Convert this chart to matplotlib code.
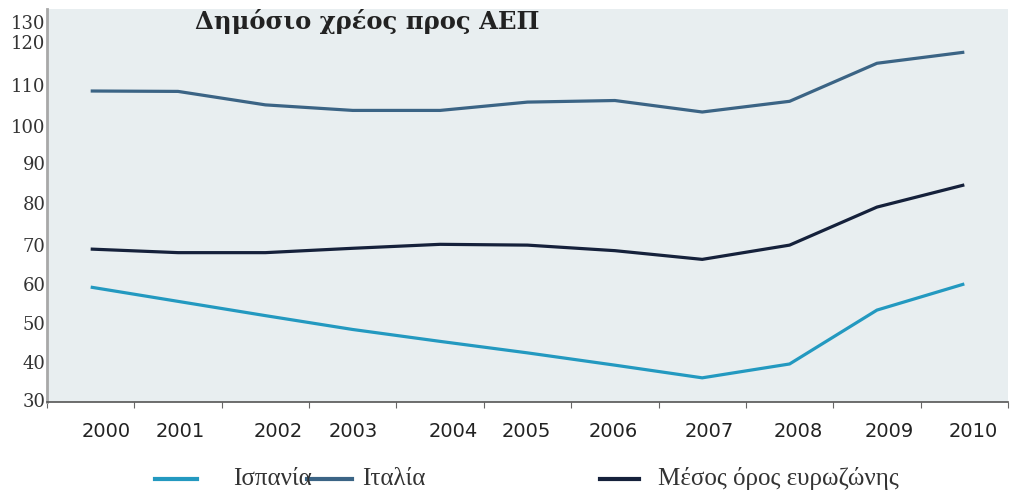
import matplotlib
matplotlib.use("Agg")
import matplotlib.pyplot as plt
from matplotlib.lines import Line2D
import matplotlib.transforms as mtransforms

# Δημόσιο χρέος ως % του ΑΕΠ
years = ["2000", "2001", "2002", "2003", "2004", "2005", "2006", "2007", "2008", "2009", "2010"]
spain = [59.0, 55.4, 51.8, 48.3, 45.3, 42.4, 39.3, 36.1, 39.6, 53.2, 59.8]
italy = [108.5, 108.4, 105.0, 103.6, 103.6, 105.7, 106.1, 103.2, 105.9, 115.5, 118.3]
euro = [68.6, 67.7, 67.7, 68.8, 69.8, 69.6, 68.2, 66.0, 69.6, 79.2, 84.8]
names = ["Ισπανία", "Ιταλία", "Μέσος όρος ευρωζώνης"]
colors = ["#2399c0", "#3b6485", "#15213b"]
ytick_text = ["30", "40", "50", "60", "70", "80", "90", "100", "110", "120", "130"]

# label placement (the year labels and the top two y labels sit off-grid)
ytick_pos = [30.4, 40, 49.9, 59.8, 69.6, 80.3, 90.4, 99.7, 110.0, 120.9, 125.9]
xlabel_pos = [0.18, 1.03, 2.15, 3.0, 4.15, 4.99, 5.98, 7.08, 8.1, 9.14, 10.1]

W, H = 1012, 492
fig = plt.figure(figsize=(W / 100, H / 100), dpi=100)
ax = fig.add_axes([47 / W, (H - 402) / H, (1008 - 47) / W, (402 - 9) / H])
ax.set_facecolor("#e8eef0")

x = list(range(len(years)))
for vals, c in zip([spain, italy, euro], colors):
    ax.plot(x, vals, color=c, lw=2.3, solid_joinstyle="round", solid_capstyle="butt")

ax.set_xlim(-0.48, 10.46)
ax.set_ylim(30, 129.2)

for s in ["top", "right"]:
    ax.spines[s].set_visible(False)
ax.spines["left"].set_color("#a8a8a8")
ax.spines["left"].set_linewidth(2.0)
ax.spines["bottom"].set_color("#555555")
ax.spines["bottom"].set_linewidth(1.2)

ax.set_xticks([i - 0.5 for i in range(len(years) + 1)])
ax.set_xticklabels([])
ax.tick_params(axis="x", length=4, color="#666666", direction="out")

ax.set_yticks(ytick_pos)
ax.set_yticklabels(ytick_text, family="DejaVu Serif", fontsize=13, color="#333333")
ax.tick_params(axis="y", length=0, pad=1)

trans = mtransforms.blended_transform_factory(ax.transData, ax.transAxes)
for p, lab in zip(xlabel_pos, years):
    ax.text(p, -0.074, lab, transform=trans, ha="center", va="center",
            family="DejaVu Sans", fontsize=14, color="#222222")

fig.text(367 / W, 1 - 22 / H, "Δημόσιο χρέος προς ΑΕΠ", ha="center", va="center",
         family="DejaVu Serif", fontweight="bold", fontsize=17.5, color="#222222")

# legend drawn by hand
handles = [(155, 197, 233), (307, 352, 362), (600, 639, 658)]
ly = 1 - 479 / H
for (x0, x1, tx), c, name in zip(handles, colors, names):
    fig.add_artist(Line2D([x0 / W, x1 / W], [ly, ly], color=c, lw=3,
                          transform=fig.transFigure))
    fig.text(tx / W, ly, name, ha="left", va="center",
             family="Liberation Serif", fontsize=18, color="#333333")

fig.savefig("out.png", dpi=100)
